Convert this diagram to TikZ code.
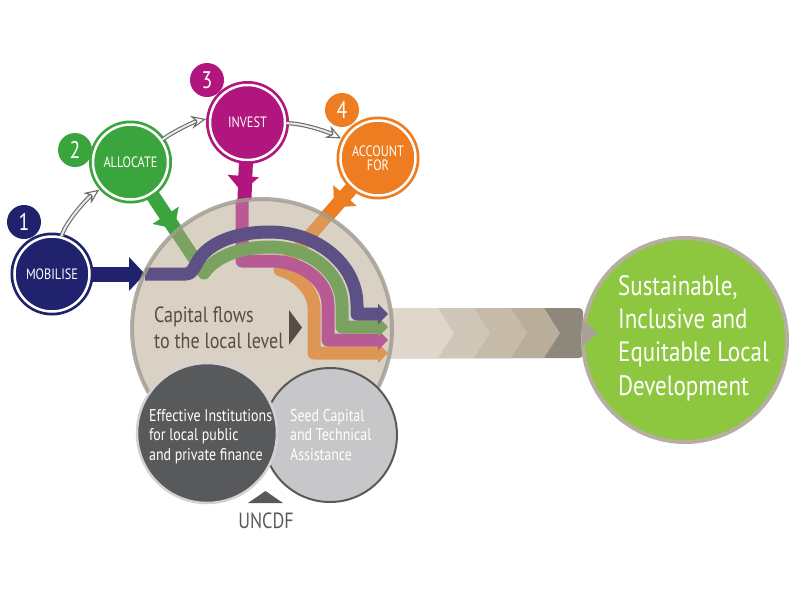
\documentclass[tikz,border=0pt]{standalone}
\usepackage{fontspec}
\setmainfont{PT Sans}
\newfontfamily\cond{PT Sans}[FakeStretch=0.82]
\usetikzlibrary{arrows.meta,calc}
\newcommand\myfs[1]{\fontsize{#1}{#1}\selectfont}
\definecolor{cnavy}{RGB}{33,34,110}
\definecolor{cgreen}{RGB}{58,165,60}
\definecolor{cmag}{RGB}{176,22,126}
\definecolor{corange}{RGB}{238,125,33}
\definecolor{mpurple}{RGB}{92,80,132}
\definecolor{mgreen}{RGB}{122,163,95}
\definecolor{mpink}{RGB}{184,90,148}
\definecolor{morange}{RGB}{222,150,84}
\definecolor{beige}{RGB}{217,209,196}
\definecolor{ringgray}{RGB}{160,153,143}
\definecolor{darkc}{RGB}{88,89,91}
\definecolor{lightc}{RGB}{199,199,201}
\definecolor{txtbrown}{RGB}{86,77,68}
\definecolor{biggreen}{RGB}{141,198,63}
\definecolor{bigring}{RGB}{182,175,161}
\definecolor{chA}{RGB}{223,215,204}
\definecolor{chB}{RGB}{208,199,184}
\definecolor{chC}{RGB}{197,187,168}
\definecolor{chD}{RGB}{184,174,153}
\definecolor{chE}{RGB}{142,136,124}
\definecolor{chT}{RGB}{168,162,150}
\definecolor{sketchgray}{RGB}{105,105,105}
\begin{document}
\begin{tikzpicture}[x=1pt,y=-1pt,font=\cond,
  stepc/.style={circle,minimum size=75pt,inner sep=0pt,fill=#1,draw=white,line width=2.5pt,
    preaction={draw=#1,line width=8pt},text=white,align=center,font=\cond\myfs{15}},
  badge/.style={circle,minimum size=34pt,inner sep=0pt,fill=#1,text=white,font=\cond\myfs{24}},
  stem/.style={draw=#1,line width=14pt},
  stemtip/.style={draw=#1,line width=0.1pt,-{Triangle[length=16pt,width=31pt,color=#1]}},
  flow/.style={draw=#1,line width=13pt,line join=round,line cap=butt,-{Triangle[length=10pt,width=20pt,color=#1]}},
  sketch/.style={draw=sketchgray,line width=1.1pt,double=white!92!black,double distance=2pt,
    -{Stealth[open,length=15pt,width=13pt,inset=5pt,line width=1.1pt]},shorten >=3pt},
  lbl/.style={anchor=base west,inner sep=0pt,font=\cond\myfs{#1}}
]
\useasboundingbox (0,0) rectangle (794,595);

% chevron band
\fill[chE,rounded corners=4pt] (370,308) rectangle (583,358);
\fill[chD] (370,308) -- (544,308) -- (560,333) -- (544,358) -- (370,358) -- cycle;
\fill[chC] (370,308) -- (511,308) -- (527,333) -- (511,358) -- (370,358) -- cycle;
\fill[chB] (370,308) -- (474,308) -- (490,333) -- (474,358) -- (370,358) -- cycle;
\fill[chA] (370,308) -- (438,308) -- (454,333) -- (438,358) -- (370,358) -- cycle;

% coordinates
\coordinate (gin) at (204,273);
\coordinate (min) at (242,261);
\coordinate (oin) at (280,270);
\coordinate (gtip) at (174.5,228.7);
\coordinate (mtip) at (242,192);
\coordinate (otip) at (334.3,207.5);
\coordinate (nvtip) at (145,274);

% step badges
\node[badge=cnavy] (b1) at (24,222) {1};
\node[badge=cgreen] (b2) at (75,150) {2};
\node[badge=cmag] (b3) at (207,80) {3};
\node[badge=corange] (b4) at (342,110) {4};

% step circles
\node[stepc=cnavy] (mob) at (52,274) {MOBILISE};
\node[stepc=cgreen] (allo) at (130.5,162) {ALLOCATE};
\node[stepc=cmag] (inv) at (247.5,122.5) {INVEST};
\node[stepc=corange] (acc) at (378,158) {ACCOUNT\\[-1pt]FOR};

% stems
\draw[stem=cgreen] (allo) -- (gin);
\draw[stem=cmag] (inv) -- (min);
\draw[stem=corange] (acc) -- (oin);
\draw[stemtip=cgreen] ($(gtip)!20pt!(allo)$) -- (gtip);
\draw[stemtip=cmag] ($(mtip)!20pt!(inv)$) -- (mtip);
\draw[stemtip=corange] ($(otip)!20pt!(acc)$) -- (otip);

% sketch arrows between steps
\draw[sketch] (mob.76) .. controls +(5,-16) and +(-14,10) .. (allo.222);
\draw[sketch] (allo.35) .. controls +(12,-9) and +(-14,3) .. (inv.174);
\draw[sketch] (inv.359) .. controls +(18,0) and +(-14,-7) .. (acc.152);

% big circle
\fill[beige] (262,329) circle (130);
\draw[stem=cnavy,line width=15pt,-{Triangle[length=16pt,width=33pt,color=cnavy]}] (mob) -- (nvtip);
\begin{scope}
\clip (262,329) circle (132);
\draw[flow=morange] (otip) -- (oin) .. controls (295,273) and (314,290) .. (314,308) -- (314,353) -- (388,353);
\draw[flow=mpink] (mtip) -- (min) -- (270,261) .. controls (302,261) and (328,281) .. (328,305) -- (328,340) -- (388,340);
\draw[flow=mgreen] (gtip) -- (gin) .. controls (214,258) and (238,247) .. (270,247) .. controls (310,247) and (342,273) .. (342,305) -- (342,327) -- (388,327);
\draw[flow=mpurple] (nvtip) -- (186,274) .. controls (194,274) and (195,262) .. (204,253) .. controls (216,241) and (238,232) .. (270,232) .. controls (318,232) and (357,265) .. (357,305) -- (357,314) -- (388,314);
\end{scope}
\draw[ringgray,line width=4pt,draw opacity=0.8] (262,329) circle (130);

\node[lbl=22,text=txtbrown] (cf1) at (154,322) {Capital flows};
\node[lbl=22,text=txtbrown] (cf2) at (154,348) {to the local level};
\fill[txtbrown] (289,310) -- (302,327.5) -- (289,345) -- cycle;

% lower circles
\draw[darkc,line width=2pt,fill=lightc] (330,435) circle (67);
\draw[lightc!80!white,line width=2.5pt,fill=darkc] (207,433) circle (70);
\node[lbl=17,text=white] (e1) at (149,421) {Effective Institutions};
\node[lbl=17,text=white] (e2) at (149,440) {for local public};
\node[lbl=17,text=white] (e3) at (149,460) {and private finance};
\node[lbl=17,text=white] (s1) at (290,421) {Seed Capital};
\node[lbl=17,text=white] (s2) at (290,440) {and Technical};
\node[lbl=17,text=white] (s3) at (290,460) {Assistance};
\fill[darkc] (248,503) -- (265.5,491) -- (283,503) -- cycle;
\node[anchor=base,inner sep=0pt,text=darkc,font=\cond\myfs{22}] (un) at (266,528) {UNCDF};

% goal circle
\draw[bigring,line width=4pt,fill=biggreen] (685,340) circle (102);
\fill[chT] (582,319) -- (598,333) -- (582,347) -- cycle;
\node[lbl=28,text=white] (g1) at (618,295) {Sustainable,};
\node[lbl=28,text=white] (g2) at (618,328) {Inclusive and};
\node[lbl=28,text=white] (g3) at (618,361) {Equitable Local};
\node[lbl=28,text=white] (g4) at (618,395) {Development};
\end{tikzpicture}
\end{document}
